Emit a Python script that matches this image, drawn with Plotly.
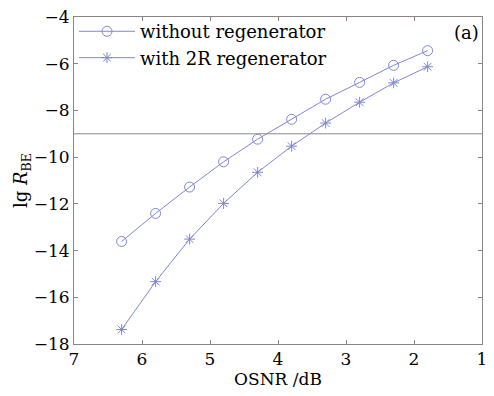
import plotly.graph_objects as go

osnr = [6.3, 5.8, 5.3, 4.8, 4.3, 3.8, 3.3, 2.8, 2.3, 1.8]
without_regen = [-13.61, -12.41, -11.28, -10.20, -9.23, -8.38, -7.52, -6.80, -6.07, -5.44]
with_2r = [-17.38, -15.33, -13.51, -11.98, -10.65, -9.53, -8.54, -7.65, -6.82, -6.13]
threshold = -9
x_ticks = [7, 6, 5, 4, 3, 2, 1]
y_ticks = [-18, -16, -14, -12, -10, -8, -6, -4]

line_col = "#7f87d2"
serif = "DejaVu Serif"

fig = go.Figure()
fig.add_trace(go.Scatter(
    x=osnr, y=without_regen, mode="lines+markers", name="without regenerator",
    line=dict(color=line_col, width=1),
    marker=dict(symbol="circle-open", size=10, color=line_col, line=dict(width=1)),
))
fig.add_trace(go.Scatter(
    x=osnr, y=with_2r, mode="lines+markers", name="with 2R regenerator",
    line=dict(color=line_col, width=1),
    marker=dict(symbol="asterisk-open", size=9, color=line_col, line=dict(width=1, color=line_col)),
))

fig.add_shape(type="line", xref="paper", x0=0, x1=1, yref="y", y0=threshold, y1=threshold,
              line=dict(color="#8a8a8a", width=1))

fig.add_annotation(text="(a)", xref="paper", yref="paper", x=0.998, y=0.99,
                   xanchor="right", yanchor="top", showarrow=False,
                   font=dict(family=serif, size=18, color="black"))

axis_common = dict(
    showgrid=False, zeroline=False, showline=True, linecolor="#8c8585", linewidth=1,
    mirror="ticks", ticks="inside", ticklen=4, tickcolor="#8c8585",
    tickfont=dict(family=serif, size=17, color="black"),
)
fig.update_xaxes(range=[7, 1], tickvals=x_ticks, ticktext=[str(v) for v in x_ticks],
                 title=dict(text="OSNR /dB", font=dict(family=serif, size=17, color="black"), standoff=2),
                 **axis_common)
fig.update_yaxes(range=[-18, -4], tickvals=y_ticks,
                 ticktext=["\u2212" + str(abs(v)) for v in y_ticks],
                 title=dict(text="lg <i>R</i><sub>BE</sub>", font=dict(family=serif, size=18, color="black"), standoff=1),
                 **axis_common)

fig.update_layout(
    width=494, height=396,
    margin=dict(l=74, r=7, t=17, b=52),
    font=dict(family=serif, color="black"),
    plot_bgcolor="white", paper_bgcolor="white",
    showlegend=True,
    legend=dict(x=0.0, y=1.012, xanchor="left", yanchor="top", bgcolor="rgba(0,0,0,0)",
                font=dict(family=serif, size=18, color="black"), tracegroupgap=0,
                itemwidth=56),
)

fig.write_html("out.html")
